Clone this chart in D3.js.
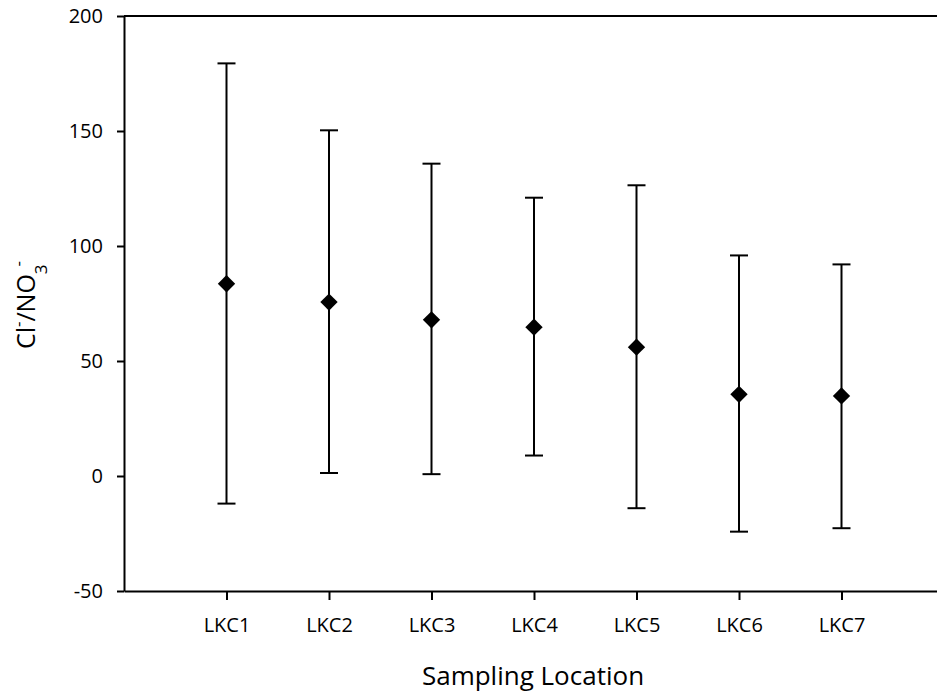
<!DOCTYPE html>
<html>
<head>
<meta charset="utf-8">
<script src="https://cdn.jsdelivr.net/npm/d3@7"></script>
<style>
  html, body { margin: 0; padding: 0; background: #fff; }
  svg { display: block; }
  text { font-family: "Open Sans", sans-serif; fill: #000; }
</style>
</head>
<body>
<svg id="chart" width="937" height="696"></svg>
<script>
// ---- data ----
const categories = ["LKC1", "LKC2", "LKC3", "LKC4", "LKC5", "LKC6", "LKC7"];
const meanValues = [83.6, 75.6, 67.9, 64.7, 56.0, 35.5, 34.8];
const upperValues = [179.4, 150.3, 135.8, 121.0, 126.4, 95.9, 92.0];
const lowerValues = [-12.0, 1.3, 0.8, 8.9, -14.0, -24.2, -22.7];
const yTicks = [-50, 0, 50, 100, 150, 200];
const xTitle = "Sampling Location";

const data = categories.map((c, i) => ({
  cat: c, mean: meanValues[i], hi: upperValues[i], lo: lowerValues[i]
}));

const svg = d3.select("#chart");
const plotLeft = 124, plotRight = 944, plotTop = 16, plotBottom = 591;
const FONT = "'Open Sans', sans-serif";

const x = d3.scalePoint().domain(categories).range([plotLeft, plotRight]).padding(1);
const y = d3.scaleLinear().domain([-50, 200]).range([plotBottom, plotTop]);

// top frame line
svg.append("line")
  .attr("x1", plotLeft).attr("x2", plotRight)
  .attr("y1", y(200)).attr("y2", y(200))
  .attr("stroke", "#000").attr("stroke-width", 2);

// y axis
const yAxis = svg.append("g")
  .attr("transform", `translate(${plotLeft},0)`)
  .call(d3.axisLeft(y).tickValues(yTicks).tickFormat(d => String(d))
    .tickSize(7).tickSizeOuter(0).tickPadding(14));
yAxis.attr("font-family", FONT).attr("font-size", 20);
yAxis.select(".domain").attr("stroke-width", 2);
yAxis.selectAll(".tick line").attr("stroke-width", 2);

// x axis
const xAxis = svg.append("g")
  .attr("transform", `translate(0,${plotBottom})`)
  .call(d3.axisBottom(x).tickSize(9).tickSizeOuter(0).tickPadding(18));
xAxis.attr("font-family", FONT).attr("font-size", 20);
xAxis.select(".domain").attr("stroke-width", 2);
xAxis.selectAll(".tick line").attr("stroke-width", 2);

// error bars
const capHalf = 9;
const g = svg.append("g");
const bars = g.selectAll("g.bar").data(data).join("g").attr("class", "bar");
bars.append("line")
  .attr("x1", d => x(d.cat)).attr("x2", d => x(d.cat))
  .attr("y1", d => y(d.hi)).attr("y2", d => y(d.lo))
  .attr("stroke", "#000").attr("stroke-width", 2);
bars.append("line")
  .attr("x1", d => x(d.cat) - capHalf).attr("x2", d => x(d.cat) + capHalf)
  .attr("y1", d => y(d.hi)).attr("y2", d => y(d.hi))
  .attr("stroke", "#000").attr("stroke-width", 2);
bars.append("line")
  .attr("x1", d => x(d.cat) - capHalf).attr("x2", d => x(d.cat) + capHalf)
  .attr("y1", d => y(d.lo)).attr("y2", d => y(d.lo))
  .attr("stroke", "#000").attr("stroke-width", 2);

// diamond markers
const sym = d3.symbol().type(d3.symbolSquare).size(150);
bars.append("path")
  .attr("d", sym)
  .attr("transform", d => `translate(${x(d.cat)},${y(d.mean)}) rotate(45)`)
  .attr("fill", "#000");

// x title
svg.append("text")
  .attr("x", 533).attr("y", 685)
  .attr("text-anchor", "middle")
  .style("font-size", "26px")
  .text(xTitle);

// y title: Cl⁻/NO₃⁻
const yt = svg.append("text")
  .attr("transform", "translate(35,305) rotate(-90)")
  .attr("text-anchor", "middle")
  .style("font-size", "25px");
yt.append("tspan").text("Cl");
yt.append("tspan").text("-").attr("baseline-shift", "super").style("font-size", "17px");
yt.append("tspan").text("/NO");
yt.append("tspan").text("3").attr("baseline-shift", "sub").style("font-size", "17px");
yt.append("tspan").text("-").attr("baseline-shift", "super").style("font-size", "17px").attr("dx", "-2");
</script>
</body>
</html>
